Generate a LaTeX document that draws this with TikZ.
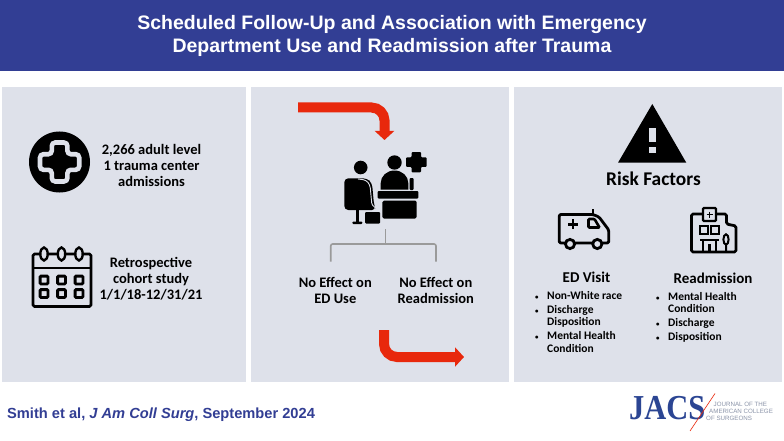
\documentclass[tikz,border=0pt]{standalone}
\usepackage{fontspec}
\setmainfont{Carlito}
\newfontfamily\arialfont{Liberation Sans}
\newfontfamily\timesfont{Liberation Serif}
\usetikzlibrary{arrows.meta}
\definecolor{bandblue}{HTML}{323E94}
\definecolor{panelgray}{HTML}{DEE1EA}
\definecolor{arrowred}{HTML}{E8280C}
\definecolor{bracketgray}{HTML}{9A9A9A}
\definecolor{logoblue}{HTML}{2B4593}
\definecolor{logogray}{HTML}{8A93A8}
\newcommand{\smallbullet}{\makebox[13pt][l]{\hspace{1pt}\scalebox{.6}{\textbullet}}}
\tikzset{
	panel/.style={fill=panelgray, draw=none},
	titletext/.style={text=white, align=center, font=\arialfont\bfseries\fontsize{19.5}{23.5}\selectfont},
	bodytext/.style={align=center, font=\bfseries\fontsize{14.5}{16}\selectfont},
	listtext/.style={anchor=north west, inner sep=0pt, font=\bfseries\fontsize{11.5}{12.7}\selectfont},
	bigarrow/.style={draw=arrowred, line width=10pt, rounded corners=13pt, -{Triangle[length=9pt, width=19pt]}},
	bracket/.style={draw=bracketgray, line width=1.6pt, rounded corners=2pt},
	iconline/.style={draw=black, line width=2.8pt, line join=round, rounded corners=1.5pt},
	logosmall/.style={anchor=west, inner sep=0pt, text=logogray, font=\arialfont\fontsize{6.2}{6.5}\selectfont},
}
\begin{document}
\begin{tikzpicture}[x=1pt, y=-1pt, >=stealth]
	\useasboundingbox (0, 0) rectangle (784, 441);
	\fill[white] (0, 0) rectangle (784, 441);
	% title band and the three panels
	\fill[bandblue] (0, 0) rectangle (784, 71.5);
	\node[titletext] (title) at (392, 36) {Scheduled Follow-Up and Association with Emergency\\Department Use and Readmission after Trauma};
	\fill[panel] (2, 87) rectangle (246, 382);
	\fill[panel] (251, 87) rectangle (509, 382);
	\fill[panel] (514, 87) rectangle (782, 382);
	% left panel, plus sign in a disc
	\fill[black] (59.5, 162) circle (30.5);
	\draw[draw=panelgray, fill=black, line width=4.6pt, rounded corners=3.5pt]
		(51.8, 142.5) -- (67.4, 142.5) -- (67.4, 154.2) -- (79.2, 154.2) -- (79.2, 169.8) -- (67.4, 169.8) -- (67.4, 181.5)
		-- (51.8, 181.5) -- (51.8, 169.8) -- (40, 169.8) -- (40, 154.2) -- (51.8, 154.2) -- cycle;
	\node[bodytext] (admissions) at (151.5, 165) {2,266 adult level\\1 trauma center\\admissions};
	% left panel, calendar
	\draw[iconline] (33, 254) rectangle (91, 306.5);
	\draw[black, line width=2.4pt] (33, 268) -- (91, 268);
	\foreach \x in {44, 61.5, 79} {
		\draw[black, fill=panelgray, line width=2.4pt] (\x, 254) ellipse (3.7 and 6.5);
		\foreach \y in {280, 293.5} {
			\draw[black, line width=2.8pt, rounded corners=1pt] (\x-3.9, \y-3.9) rectangle (\x+3.9, \y+3.9);
		}
	}
	\node[bodytext] (cohort) at (151, 279) {Retrospective\\cohort study\\1/1/18-12/31/21};
	% middle panel, arrows
	\coordinate (inA) at (298, 107.5);
	\coordinate (inB) at (384.5, 107.5);
	\coordinate (inC) at (384.5, 140);
	\draw[bigarrow] (inA) -- (inB) -- (inC);
	\coordinate (outA) at (384, 330);
	\coordinate (outB) at (384, 357);
	\coordinate (outC) at (464, 357);
	\draw[bigarrow] (outA) -- (outB) -- (outC);
	% middle panel, patient and doctor at the desk
	\fill[black] (360.7, 167.5) circle (6.8);
	\fill[black, rounded corners=4pt] (344.3, 210) -- (344.3, 178.3) -- (367, 178.3) -- (372, 183) -- (374, 205) -- (376, 210) -- cycle;
	\draw[panelgray, line width=.9pt, rounded corners=3pt] (358, 179) -- (366, 180) -- (370, 185) -- (372, 206) -- (377, 208);
	\fill[black] (355.8, 210) rectangle (358.8, 222);
	\fill[black, rounded corners=1pt] (352.3, 221.5) rectangle (362.3, 224);
	\fill[black, rounded corners=1pt] (365, 212) rectangle (380, 223.5);
	\fill[black] (394.5, 162.5) circle (7.2);
	\fill[black] (380.7, 189.5) -- (380.7, 183) arc[start angle=180, end angle=360, x radius=13.8, y radius=12.5] -- (408.3, 189.5) -- cycle;
	\fill[black, rounded corners=1pt] (409.5, 178) rectangle (413.5, 190);
	\fill[black, rounded corners=1pt] (377.7, 191) rectangle (418.3, 198.5);
	\fill[black, rounded corners=1.5pt] (382.3, 200.7) rectangle (416.7, 218.5);
	\fill[black, rounded corners=1pt] (411.5, 152) -- (421, 152) -- (421, 157.3) -- (426.7, 157.3) -- (426.7, 166.8) -- (421, 166.8) -- (421, 172.3)
		-- (411.5, 172.3) -- (411.5, 166.8) -- (406, 166.8) -- (406, 157.3) -- (411.5, 157.3) -- cycle;
	% middle panel, bracket
	\coordinate (bracketTop) at (385.3, 229);
	\coordinate (bracketMid) at (385.3, 244);
	\coordinate (bracketLeft) at (330.7, 261.5);
	\coordinate (bracketRight) at (436, 261.5);
	\draw[bracket] (bracketTop) -- (bracketMid);
	\draw[bracket] (bracketLeft) |- (bracketMid) -| (bracketRight);
	\node[bodytext] (edUse) at (335.3, 290) {No Effect on\\ED Use};
	\node[bodytext] (readm) at (435.8, 290) {No Effect on\\Readmission};
	% right panel, warning sign
	\fill[black] (652.3, 104) -- (686.3, 162.7) -- (618, 162.7) -- cycle;
	\fill[panelgray] (649, 128) rectangle (655.7, 142);
	\fill[panelgray] (649, 147) rectangle (655.7, 153);
	\node[font=\bfseries\fontsize{19.4}{21}\selectfont] (risk) at (653.5, 179) {Risk Factors};
	% right panel, ambulance
	\draw[iconline] (559.2, 243) -- (559.2, 214.5) -- (593, 214.5) -- (599, 217) -- (608.8, 230) -- (608.8, 243) -- cycle;
	\draw[black, line width=2.6pt, rounded corners=1pt] (588.5, 219) -- (594.5, 219) -- (599.5, 227.5) -- (588.5, 227.5) -- cycle;
	\fill[black] (591.7, 209) rectangle (594, 214);
	\draw[black, line width=2.6pt] (568, 224.3) -- (578, 224.3) (573, 219.3) -- (573, 229.3);
	\draw[black, fill=panelgray, line width=2.8pt] (570, 244) circle (4.6);
	\draw[black, fill=panelgray, line width=2.8pt] (597.3, 244) circle (4.6);
	% right panel, hospital
	\draw[iconline] (703, 214) -- (691.5, 214) -- (691.5, 252) -- (736, 252) -- (736, 226) -- (726.5, 224) -- (726.5, 214) -- (716, 214);
	\draw[black, line width=2.4pt, rounded corners=1pt] (703, 208) rectangle (716, 221);
	\draw[black, line width=1.8pt] (706.5, 214.5) -- (712.5, 214.5) (709.5, 211.5) -- (709.5, 217.5);
	\draw[black, line width=2.2pt] (700, 226) rectangle (708, 234);
	\draw[black, line width=2.2pt] (711, 226) rectangle (719, 234);
	\draw[black, line width=2.2pt] (700, 240) -- (719, 240) (703, 240) -- (703, 252) (716, 240) -- (716, 252) (709.5, 244) -- (709.5, 252);
	\draw[black, line width=2pt] (726, 239.5) ellipse (2.6 and 5.2) (726, 245) -- (726, 252);
	% right panel, lists
	\node[font=\bfseries\fontsize{15}{17}\selectfont] (edVisit) at (586.5, 277) {ED Visit};
	\node[font=\bfseries\fontsize{15}{17}\selectfont] (readmTitle) at (713, 278) {Readmission};
	\node[listtext] (edList) at (534, 290.5) {%
		\begin{tabular}{@{}l@{}l@{}}
		\smallbullet & Non-White race\\[1pt]
		\smallbullet & Discharge\\
		& Disposition\\[1pt]
		\smallbullet & Mental Health\\
		& Condition
		\end{tabular}};
	\node[listtext] (raList) at (655, 291) {%
		\begin{tabular}{@{}l@{}l@{}}
		\smallbullet & Mental Health\\
		& Condition\\[1pt]
		\smallbullet & Discharge\\[1pt]
		\smallbullet & Disposition
		\end{tabular}};
	% footer
	\node[anchor=west, inner sep=0pt, text=bandblue, font=\arialfont\bfseries\fontsize{14.65}{16}\selectfont] (cite) at (7, 415) {Smith et al, \textit{J Am Coll Surg}, September 2024};
	\node[anchor=west, inner sep=0pt, text=logoblue, xscale=.87, font=\timesfont\bfseries\fontsize{35}{36}\selectfont] (jacs) at (629, 408) {JACS};
	\coordinate (slashTop) at (715, 393.5);
	\coordinate (slashEnd) at (690, 431);
	\draw[arrowred, line width=.6pt] (slashTop) -- (slashEnd);
	\node[logosmall] (jrnlA) at (713.5, 404.3) {JOURNAL OF THE};
	\node[logosmall] (jrnlB) at (709, 411.2) {AMERICAN COLLEGE};
	\node[logosmall] (jrnlC) at (706, 418.5) {OF SURGEONS};
\end{tikzpicture}
\end{document}
